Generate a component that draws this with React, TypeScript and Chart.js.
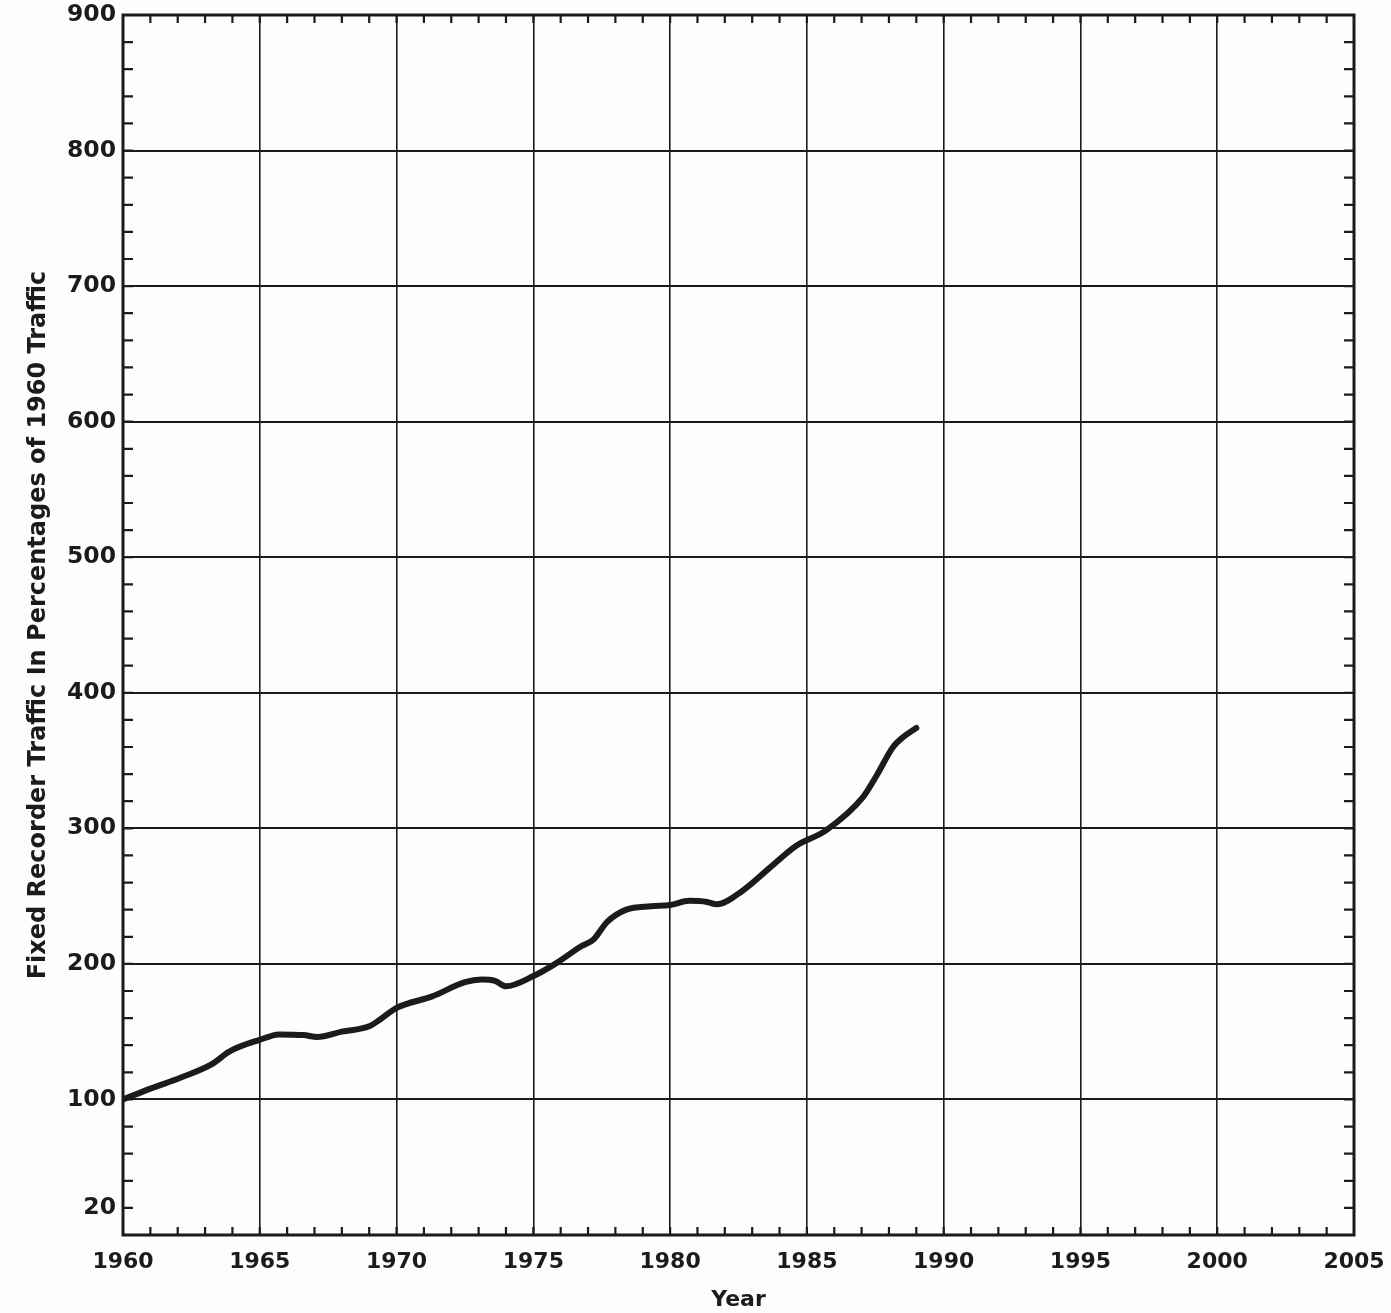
import React, { useEffect, useRef } from "react";
import { Chart, registerables } from "chart.js";

Chart.register(...registerables);

// Year (x) and traffic index, 1960 = 100 (y)
const years = [
  1960, 1961, 1962.1, 1963.25, 1963.9, 1965, 1965.7, 1966.6, 1967.1, 1968,
  1969, 1969.4, 1970, 1971.3, 1972.5, 1973.1, 1973.6, 1974, 1975, 1975.8,
  1976.75, 1977.2, 1977.7, 1978.4, 1979.3, 1980, 1980.7, 1981.35, 1981.7,
  1982.65, 1983.65, 1984.6, 1985.7, 1987.05, 1987.55, 1988.15, 1988.5, 1989,
];
const traffic = [
  100, 108, 116, 126, 135.5, 144, 148, 147.5, 146, 150,
  154, 159, 167.5, 176, 186.5, 188.5, 187.5, 183.5, 191, 200,
  213, 218, 231, 240, 242.5, 243.5, 246.5, 245.7, 244,
  254, 271, 287, 298.5, 323, 339, 360, 367, 374,
];

const yTickLabels = [20, 100, 200, 300, 400, 500, 600, 700, 800, 900];
const xTickLabels = [1960, 1965, 1970, 1975, 1980, 1985, 1990, 1995, 2000, 2005];

const INK = "#1b1b1b";
const FONT = "'DejaVu Sans', 'Liberation Sans', sans-serif";

const framePlugin = {
  id: "frame",
  beforeDraw(chart: any) {
    const { ctx, width, height } = chart;
    ctx.save();
    ctx.fillStyle = "#fdfdfb";
    ctx.fillRect(0, 0, width, height);
    ctx.restore();
  },
  afterDraw(chart: any) {
    const { ctx, chartArea: a, scales } = chart;
    const xs = scales.x;
    const ys = scales.y;
    ctx.save();
    ctx.strokeStyle = INK;
    ctx.lineWidth = 2.2;
    ctx.beginPath();
    for (const t of ys.ticks) {
      if (t.value <= ys.min || t.value >= ys.max) continue;
      const py = ys.getPixelForValue(t.value);
      ctx.moveTo(a.left, py);
      ctx.lineTo(a.left + 10, py);
      ctx.moveTo(a.right, py);
      ctx.lineTo(a.right - 10, py);
    }
    for (const t of xs.ticks) {
      if (t.value <= xs.min || t.value >= xs.max) continue;
      const px = xs.getPixelForValue(t.value);
      ctx.moveTo(px, a.bottom);
      ctx.lineTo(px, a.bottom - 8);
      ctx.moveTo(px, a.top);
      ctx.lineTo(px, a.top + 8);
    }
    ctx.stroke();
    ctx.lineWidth = 3;
    ctx.strokeRect(a.left, a.top, a.right - a.left, a.bottom - a.top);
    ctx.restore();
  },
};

export default function App() {
  const canvasRef = useRef<HTMLCanvasElement | null>(null);

  useEffect(() => {
    if (!canvasRef.current) return;
    const points = years.map((yr, i) => ({ x: yr, y: traffic[i] }));
    const chart = new Chart(canvasRef.current, {
      type: "line",
      data: {
        datasets: [
          {
            data: points,
            borderColor: INK,
            borderWidth: 6,
            pointRadius: 0,
            cubicInterpolationMode: "monotone",
            fill: false,
            borderCapStyle: "round",
            borderJoinStyle: "round",
          },
        ],
      },
      options: {
        animation: false,
        responsive: false,
        devicePixelRatio: 1,
        layout: { padding: { top: 15, right: 37, left: 0, bottom: 0 } },
        plugins: {
          legend: { display: false },
          tooltip: { enabled: false },
        },
        scales: {
          x: {
            type: "linear",
            min: 1960,
            max: 2005,
            afterFit(s: any) {
              s.height = 78;
              s.paddingLeft = 0;
              s.paddingRight = 0;
            },
            border: { display: false },
            grid: {
              drawTicks: false,
              lineWidth: 1.6,
              color: (c: any) =>
                c.tick && c.tick.value % 5 === 0 ? INK : "rgba(0,0,0,0)",
            },
            ticks: {
              stepSize: 1,
              autoSkip: false,
              maxRotation: 0,
              minRotation: 0,
              padding: 14,
              color: INK,
              font: { family: FONT, weight: "bold", size: 22 },
              callback: (v: any) =>
                xTickLabels.includes(Number(v)) ? String(v) : "",
            },
            title: {
              display: true,
              text: "Year",
              color: INK,
              font: { family: FONT, weight: "bold", size: 22 },
              padding: { top: 0, bottom: 0 },
            },
          },
          y: {
            type: "linear",
            min: 0,
            max: 900,
            afterFit(s: any) {
              s.width = 123;
              s.paddingTop = 0;
              s.paddingBottom = 0;
            },
            border: { display: false },
            grid: {
              drawTicks: false,
              lineWidth: 2,
              color: (c: any) =>
                c.tick && c.tick.value % 100 === 0 ? INK : "rgba(0,0,0,0)",
            },
            ticks: {
              stepSize: 20,
              autoSkip: false,
              padding: 7,
              color: INK,
              font: { family: FONT, weight: "bold", size: 23.5 },
              callback: (v: any) =>
                yTickLabels.includes(Number(v)) ? String(v) : "",
            },
            title: {
              display: true,
              text: "Fixed Recorder Traffic In Percentages of 1960 Traffic",
              color: INK,
              font: { family: FONT, weight: "bold", size: 24 },
              padding: { top: 24, bottom: 0 },
            },
          },
        },
      },
      plugins: [framePlugin],
    } as any);
    return () => chart.destroy();
  }, []);

  return (
    <div
      style={{
        position: "absolute",
        left: 0,
        top: 0,
        width: 1391,
        height: 1313,
        background: "#fdfdfb",
      }}
    >
      <canvas
        ref={canvasRef}
        width={1391}
        height={1313}
        style={{ display: "block", width: 1391, height: 1313 }}
      />
    </div>
  );
}
